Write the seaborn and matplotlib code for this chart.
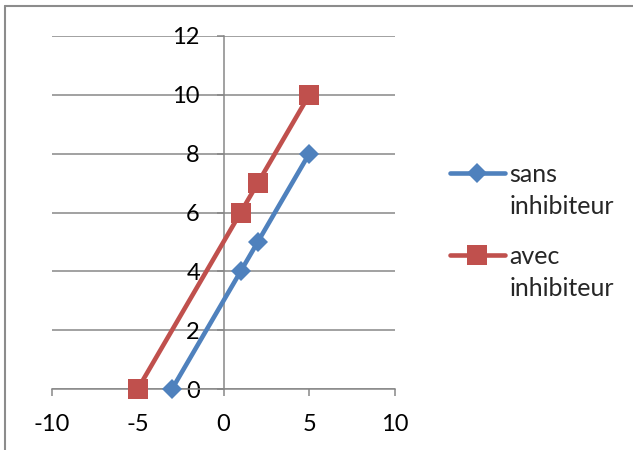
import matplotlib
matplotlib.use("Agg")
import matplotlib.pyplot as plt
import seaborn as sns
import pandas as pd
from matplotlib.lines import Line2D

x_sans = [-3, 1, 2, 5]
y_sans = [0, 4, 5, 8]
x_avec = [-5, 1, 2, 5]
y_avec = [0, 6, 7, 10]
labels = ["sans\ninhibiteur", "avec\ninhibiteur"]
x_ticks = [-10, -5, 0, 5, 10]
y_ticks = [0, 2, 4, 6, 8, 10, 12]

sns.set_theme(style="white")
plt.rcParams['font.family'] = ['Lato', 'DejaVu Sans']
plt.rcParams['axes.unicode_minus'] = False

W, H = 633, 450
fig = plt.figure(figsize=(W / 100, H / 100), dpi=100)
ax = fig.add_axes([52 / W, 1 - 389 / H, (395 - 52) / W, (389 - 36) / H])

grid_col = "#878787"
blue = "#4F81BD"
red = "#C0504D"

df = pd.DataFrame({
    "x": x_sans + x_avec,
    "y": y_sans + y_avec,
    "serie": [labels[0]] * len(x_sans) + [labels[1]] * len(x_avec),
})

sns.lineplot(data=df, x="x", y="y", hue="serie", style="serie",
             palette={labels[0]: blue, labels[1]: red},
             markers={labels[0]: "D", labels[1]: "s"},
             dashes=False, sort=False, ax=ax, linewidth=3.3,
             markeredgewidth=0, legend=False)
for ln, ms in zip(ax.get_lines(), [10, 14.5]):
    ln.set_markersize(ms)
    ln.set_clip_on(False)
    ln.set_zorder(6)

ax.set_xlim(-10, 10)
ax.set_ylim(0, 12)
ax.set_xticks(x_ticks)
ax.set_yticks(y_ticks)
ax.set_xlabel("")
ax.set_ylabel("")

ax.spines["top"].set_visible(False)
ax.spines["right"].set_visible(False)
ax.spines["left"].set_position(("data", 0))
for s in ("left", "bottom"):
    ax.spines[s].set_color(grid_col)
    ax.spines[s].set_linewidth(1.1)
ax.yaxis.grid(True, color=grid_col, linewidth=1.1)
ax.xaxis.grid(False)
ax.set_axisbelow(True)
ax.tick_params(axis="both", direction="out", length=5, width=1.1,
               color=grid_col, labelsize=17, labelcolor="black")
ax.tick_params(axis="y", pad=12, left=True)
ax.tick_params(axis="x", pad=13, bottom=True)
for lbl in ax.get_yticklabels():
    lbl.set_zorder(5)
ax.patch.set_alpha(0)

fs = 18
ls = 1.45
handles = [
    Line2D([], [], color=blue, marker="D", markersize=10, linewidth=3.3, markeredgewidth=0),
    Line2D([], [], color=red, marker="s", markersize=14.5, linewidth=3.3, markeredgewidth=0),
]
leg = fig.legend(handles, labels, loc="upper left",
                 bbox_to_anchor=(427 / W, 1 - 141 / H),
                 frameon=False, fontsize=fs, handlelength=2.2,
                 handletextpad=0.2, labelspacing=1.08)
for t in leg.get_texts():
    t.set_linespacing(ls)
shift = 13.3
for h in leg.legend_handles:
    h.set_ydata([y + shift for y in h.get_ydata()])

fig.add_artist(Line2D([5 / W, 5 / W], [0, 1 - 6 / H], transform=fig.transFigure,
                      color="#8c8c8c", linewidth=1.5))
fig.add_artist(Line2D([5 / W, 1], [1 - 6 / H, 1 - 6 / H], transform=fig.transFigure,
                      color="#8c8c8c", linewidth=1.5))

fig.savefig("out.png", dpi=100)
